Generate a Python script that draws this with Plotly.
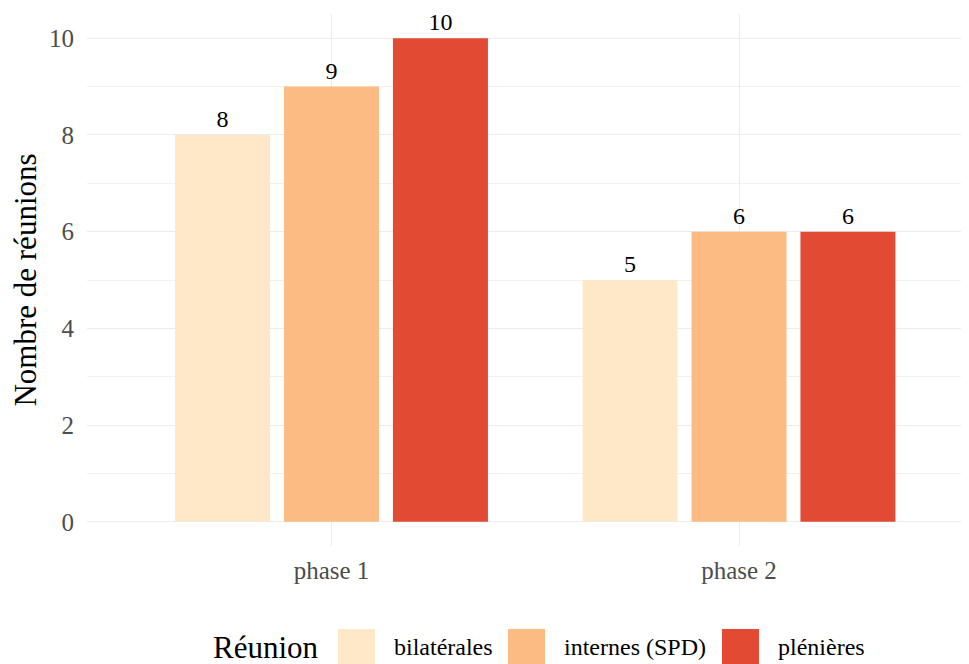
import plotly.graph_objects as go

phases = ["phase 1", "phase 2"]
bilaterales = [8, 5]
internes = [9, 6]
plenieres = [10, 6]
series_names = ["bilatérales", "internes (SPD)", "plénières"]
series_colors = ["#FEE8C8", "#FDBB84", "#E34A33"]
y_ticks = [0, 2, 4, 6, 8, 10]
legend_title = "Réunion"
y_title = "Nombre de réunions"

FONT = "Liberation Serif"

# layout geometry (page pixels; the page body has an 8px margin)
BODY = 8
PX_L, PX_R, PX_T, PX_B = 87, 969, 14, 546
W, H = 969 - BODY, 664 - BODY


def px_x(x):
    return (x - PX_L) / (PX_R - PX_L)


def px_y(y):
    return (PX_B - y) / (PX_B - PX_T)


fig = go.Figure()
for name, vals, col in zip(series_names, [bilaterales, internes, plenieres], series_colors):
    fig.add_trace(go.Bar(
        x=phases, y=vals, name=name,
        marker=dict(color=col, line=dict(width=0)),
        text=[str(v) for v in vals],
        textposition="outside",
        textfont=dict(family=FONT, size=24, color="#000000"),
        cliponaxis=False,
        showlegend=False,
    ))

# legend drawn as key boxes + labels
swatch_x = [338, 508, 722]
label_x = [392, 562, 776]
shapes = []
annotations = []
for sx, lx, name, col in zip(swatch_x, label_x, series_names, series_colors):
    shapes.append(dict(type="rect", xref="paper", yref="paper",
                       x0=px_x(sx), x1=px_x(sx + 37), y0=px_y(629), y1=px_y(666),
                       fillcolor=col, line=dict(width=0), layer="above"))
    annotations.append(dict(text=name, xref="paper", yref="paper",
                            x=px_x(lx), y=px_y(647), xanchor="left", yanchor="middle",
                            showarrow=False,
                            font=dict(family=FONT, size=24, color="#000000")))
annotations.append(dict(text=legend_title, xref="paper", yref="paper",
                        x=px_x(266), y=px_y(647), xanchor="center", yanchor="middle",
                        showarrow=False,
                        font=dict(family=FONT, size=31, color="#000000")))

fig.update_layout(
    width=W, height=H,
    margin=dict(l=PX_L - BODY, r=W - (PX_R - BODY), t=PX_T - BODY, b=H - (PX_B - BODY), autoexpand=False),
    paper_bgcolor="white", plot_bgcolor="white",
    barmode="group", bargap=0.198, bargroupgap=0.128,
    font=dict(family=FONT, size=25, color="#4D4D4D"),
    showlegend=False,
    shapes=shapes,
    annotations=annotations,
)

fig.update_xaxes(
    type="category", range=[-0.6, 1.5644],
    showgrid=True, gridcolor="#EBEBEB", gridwidth=1.3,
    showline=False, zeroline=False, ticks="",
    tickfont=dict(family=FONT, size=25, color="#4D4D4D"),
    ticklabelstandoff=7,
)
fig.update_yaxes(
    range=[-0.5, 10.5], tickvals=y_ticks, ticktext=[str(t) for t in y_ticks],
    showgrid=True, gridcolor="#EBEBEB", gridwidth=1.3,
    minor=dict(dtick=1, showgrid=True, gridcolor="#F0F0F0", gridwidth=0.9),
    showline=False, zeroline=False, ticks="",
    tickfont=dict(family=FONT, size=25, color="#4D4D4D"),
    ticklabelstandoff=12,
    title=dict(text=y_title, font=dict(family=FONT, size=31, color="#000000"), standoff=6),
)

fig.write_html("out.html")
